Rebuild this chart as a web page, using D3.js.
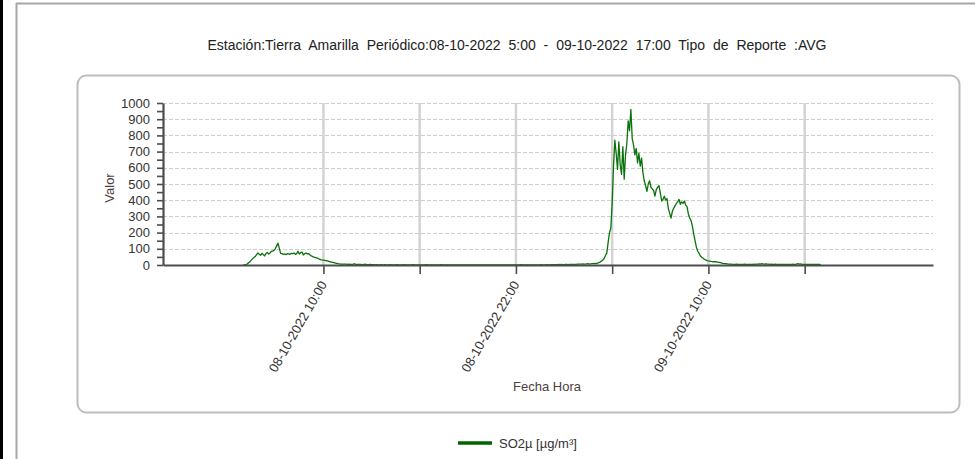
<!DOCTYPE html>
<html><head><meta charset="utf-8">
<script src="https://cdn.jsdelivr.net/npm/d3@7"></script>
<style>
body{margin:0;background:#fff}
svg{display:block}
text{font-family:"Liberation Sans",Arial,sans-serif}
</style>
</head><body>
<svg id="c" width="975" height="459"></svg>
<script>
// ---------- data ----------
const titleText = "Estación:Tierra Amarilla Periódico:08-10-2022 5:00 - 09-10-2022 17:00 Tipo de Reporte :AVG";
const seriesName = "SO2µ [µg/m³]";
const yAxisTitle = "Valor";
const xAxisTitle = "Fecha Hora";
const startTime = "2022-10-08T05:00";
const stepMinutes = 5;
const so2Values = [
0,0,2,6,14,20,30,38,46,52,
64,74,66,60,72,64,56,70,78,68,
74,84,86,90,100,118,135,104,72,70,
66,68,64,70,68,66,72,70,74,66,
70,84,68,76,80,62,70,74,68,70,
62,56,52,48,46,44,40,36,33,31,
30,28,27,25,22,20,18,16,14,12,
10,8,7,
6,6,5,6,5,4,5,4,
4,3,8,4,3,3,4,3,2,3,5,3,2,2,3,2,
2,2,1,2,1,1,2,1,1,3,1,1,1,2,1,1,1,1,2,
1,1,1,1,2,1,1,1,1,1,1,2,1,1,1,1,1,1,1,
1,1,2,1,1,1,1,1,1,1,1,1,1,2,1,1,1,1,1,
1,1,1,1,1,1,1,1,1,1,1,1,1,1,1,1,1,1,1,
1,1,1,1,1,1,1,1,1,1,1,1,1,1,1,1,1,1,1,
1,1,1,1,1,1,1,1,1,1,1,1,1,1,1,1,2,1,1,
1,1,1,1,1,1,1,1,1,1,1,1,2,1,1,1,2,1,1,
2,1,2,2,2,2,3,2,3,2,2,3,3,2,3,3,3,4,3,
4,5,6,5,6,7,6,5,7,8,6,7,8,9,10,9,12,14,18,24,31,
40,58,75,140,200,228,380,610,770,690,
590,760,620,560,730,530,680,750,890,830,
960,780,740,680,720,630,690,610,660,570,
520,490,455,500,520,480,470,460,425,465,
480,490,445,395,405,425,400,410,350,320,
290,330,350,365,380,390,405,375,390,380,
395,370,360,315,290,275,240,190,150,110,
85,72,56,48,42,35,31,27,25,24,
22,21,20,20,19,18,16,14,12,10,
9,8,7,6,6,5,4,
4,4,5,4,4,3,4,4,5,4,3,4,4,3,
4,5,4,6,5,7,5,8,6,5,7,6,5,4,5,4,4,5,4,4,
3,4,4,3,4,4,3,3,4,3,5,3,4,6,8,5,7,4,3,3,
3,4,3,3,3,4,3,3,3,3,3,2
];
const xDomainTimes = ["2022-10-08T00:00", "2022-10-10T00:00"];
const gridTimes = ["2022-10-08T10:00","2022-10-08T16:00","2022-10-08T22:00","2022-10-09T04:00","2022-10-09T10:00","2022-10-09T16:00"];
const labelTimes = ["2022-10-08T10:00","2022-10-08T22:00","2022-10-09T10:00"];
const tickLabels = ["08-10-2022 10:00","08-10-2022 22:00","09-10-2022 10:00"];
const yDomain = [0, 1000];
const yLabelTicks = [0,100,200,300,400,500,600,700,800,900,1000];
const yMinorTicks = [50,150,250,350,450,550,650,750,850,950];

// ---------- layout ----------
const parse = d3.timeParse("%Y-%m-%dT%H:%M");
const t0 = parse(startTime);
const data = so2Values.map((v, i) => ({t: d3.timeMinute.offset(t0, i * stepMinutes), v}));

const plot = {left: 163, right: 933, top: 103, bottom: 265};
const x = d3.scaleTime().domain(xDomainTimes.map(parse)).range([plot.left, plot.right]);
const y = d3.scaleLinear().domain(yDomain).range([plot.bottom, plot.top]);

const svg = d3.select("#c");
const axisCol = "#4d4d4d", textCol = "#333";

// outer frame
svg.append("rect").attr("x", 0).attr("y", 0).attr("width", 3).attr("height", 459).attr("fill", "#000");
svg.append("line").attr("x1", 16.5).attr("x2", 16.5).attr("y1", 3).attr("y2", 459).attr("stroke", "#a6a6a6").attr("stroke-width", 2);
svg.append("line").attr("x1", 16).attr("x2", 975).attr("y1", 3.5).attr("y2", 3.5).attr("stroke", "#a6a6a6").attr("stroke-width", 2);

// inner rounded box
svg.append("rect").attr("x", 77.5).attr("y", 75.5).attr("width", 882).attr("height", 337).attr("rx", 9)
  .attr("fill", "none").attr("stroke", "#bcbcbc").attr("stroke-width", 2);

// title: natural glyph spacing, slightly wider word gaps to span the reference width
const title = svg.append("text").attr("x", 517).attr("y", 50).attr("text-anchor", "middle")
  .attr("font-size", 14).attr("fill", "#222").text(titleText);
const natural = title.node().getComputedTextLength();
const spaces = (titleText.match(/ /g) || []).length;
const targetWidth = 636;
if (natural < targetWidth && spaces > 0) title.attr("word-spacing", Math.min(4, (targetWidth - natural) / spaces));

// horizontal dashed grid
svg.append("g").selectAll("line").data(yLabelTicks.filter(d => d > 0)).join("line")
  .attr("x1", plot.left).attr("x2", plot.right)
  .attr("y1", d => Math.round(y(d)) + 0.5).attr("y2", d => Math.round(y(d)) + 0.5)
  .attr("stroke", "#cfcfcf").attr("stroke-width", 1).attr("stroke-dasharray", "4,2");

// vertical grid
svg.append("g").selectAll("line").data(gridTimes.map(parse)).join("line")
  .attr("x1", d => x(d)).attr("x2", d => x(d))
  .attr("y1", plot.top).attr("y2", plot.bottom)
  .attr("stroke", "#d3d3d3").attr("stroke-width", 2.5);

// series
svg.append("path").datum(data)
  .attr("fill", "none").attr("stroke", "#0a720a").attr("stroke-width", 1.3).attr("stroke-linejoin", "round")
  .attr("d", d3.line().x(d => x(d.t)).y(d => y(d.v)));

// y axis
const yAxis = svg.append("g").attr("transform", `translate(${plot.left},0)`)
  .call(d3.axisLeft(y).tickValues(yLabelTicks.concat(yMinorTicks)).tickSize(6).tickPadding(7)
    .tickFormat(d => yLabelTicks.includes(d) ? d : "").tickSizeOuter(0));
yAxis.select(".domain").attr("stroke", axisCol).attr("stroke-width", 2.2);
yAxis.selectAll(".tick line").attr("stroke", axisCol).attr("stroke-width", 1.6);
yAxis.selectAll(".tick text").attr("font-size", 13).attr("fill", textCol).attr("font-family", '"Liberation Sans",Arial,sans-serif');

// x axis
const xAxis = svg.append("g").attr("transform", `translate(0,${plot.bottom})`)
  .call(d3.axisBottom(x).tickValues(gridTimes.map(parse)).tickSize(9).tickFormat("").tickSizeOuter(0));
xAxis.select(".domain").attr("stroke", axisCol).attr("stroke-width", 2.2);
xAxis.selectAll(".tick line").attr("stroke", axisCol).attr("stroke-width", 1.6);

// x tick labels (rotated)
svg.append("g").selectAll("text").data(labelTimes.map(parse)).join("text")
  .attr("transform", d => `translate(${x(d)},${plot.bottom + 17}) rotate(-60)`)
  .attr("text-anchor", "end").attr("dy", "0.35em")
  .attr("font-size", 13).attr("fill", textCol)
  .text((d, i) => tickLabels[i]);

// axis titles
svg.append("text").attr("transform", `translate(114,${(plot.top + plot.bottom) / 2 + 4}) rotate(-90)`)
  .attr("text-anchor", "middle").attr("font-size", 13).attr("fill", "#4a4040").text(yAxisTitle);
svg.append("text").attr("x", 547).attr("y", 391).attr("text-anchor", "middle")
  .attr("font-size", 13).attr("fill", "#4a4040").text(xAxisTitle);

// legend
svg.append("line").attr("x1", 458).attr("x2", 492).attr("y1", 443).attr("y2", 443)
  .attr("stroke", "#006400").attr("stroke-width", 3.5);
svg.append("text").attr("x", 499).attr("y", 447.5).attr("font-size", 13).attr("fill", textCol).text(seriesName);
</script>
</body></html>
